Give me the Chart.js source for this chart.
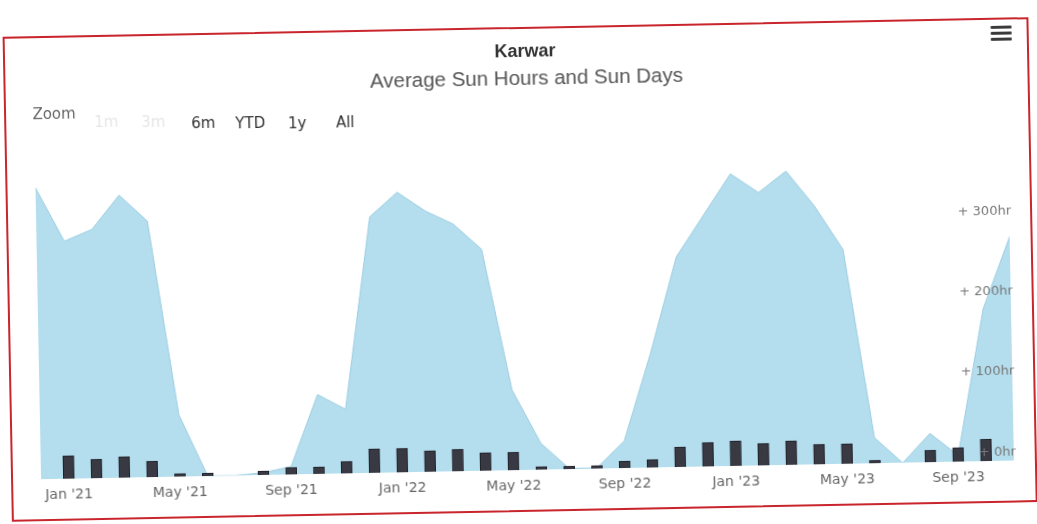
<!DOCTYPE html>
<html>
<head>
<meta charset="utf-8">
<script src="https://cdn.jsdelivr.net/npm/chart.js@4.4.0/dist/chart.umd.min.js"></script>
<style>
html,body{margin:0;padding:0;background:#fff;width:1037px;height:524px;overflow:hidden;}
#wrap{position:absolute;left:0;top:0;width:1037px;height:524px;transform:rotate(-1.1deg);transform-origin:518px 262px;}
#frame{position:absolute;left:7px;top:27px;width:1026px;height:485px;border:2px solid #c9252c;box-sizing:border-box;}
#c{position:absolute;left:0;top:0;}
.t{position:absolute;white-space:nowrap;transform:translate(-50%,-50%);line-height:1;}
#title{left:529px;top:51px;font:bold 18px "Liberation Sans",Arial,sans-serif;color:#333;}
#subtitle{left:530px;top:78px;font:20.5px "Liberation Sans",Arial,sans-serif;color:#555;}
.z{font:15px "DejaVu Sans",sans-serif;color:#333;}
#zoomlbl{left:57px;top:105px;color:#666;}
.dis{color:#e6e6e6;}
#menu{position:absolute;left:995px;top:35px;width:21px;}
#menu div{height:3px;background:#3a3a3a;margin-bottom:3px;border-radius:1px;}
</style>
</head>
<body>
<div id="wrap">
  <div id="frame"></div>
  <canvas id="c" width="1037" height="524"></canvas>
  <div class="t" id="title">Karwar</div>
  <div class="t" id="subtitle">Average Sun Hours and Sun Days</div>
  <div class="t z" id="zoomlbl">Zoom</div>
  <div class="t z dis" style="left:109px;top:114px;">1m</div>
  <div class="t z dis" style="left:156px;top:115px;">3m</div>
  <div class="t z" style="left:206px;top:117px;">6m</div>
  <div class="t z" style="left:253px;top:118px;">YTD</div>
  <div class="t z" style="left:300px;top:119px;">1y</div>
  <div class="t z" style="left:348px;top:119px;">All</div>
  <div id="menu"><div></div><div></div><div></div></div>
</div>
<script>
const months = ["Dec '20",
  "Jan '21","Feb '21","Mar '21","Apr '21","May '21","Jun '21","Jul '21","Aug '21","Sep '21","Oct '21","Nov '21","Dec '21",
  "Jan '22","Feb '22","Mar '22","Apr '22","May '22","Jun '22","Jul '22","Aug '22","Sep '22","Oct '22","Nov '22","Dec '22",
  "Jan '23","Feb '23","Mar '23","Apr '23","May '23","Jun '23","Jul '23","Aug '23","Sep '23","Oct '23","Nov '23"];

// average sun hours per month (area)
const sunHours = [363,
  296,310,352,319,77,0,0,3,10,99,80,319,
  349,325,308,276,100,33,1,1,34,142,262,313,
  364,340,366,322,267,32,0,36,8,190,279];

// sun days per month (columns)
const sunDays = [null,
  23,19,21,16,3,3,null,4,7,7,12,24,
  24,21,22,18,18,3,3,3,7,8,20,24,
  25,22,24,20,20,3,null,12,14,22,null];

const xTickLabels = ["Jan '21","May '21","Sep '21","Jan '22","May '22","Sep '22","Jan '23","May '23","Sep '23"];
const yTickValues = [0,100,200,300];

new Chart(document.getElementById('c'), {
  type: 'line',
  data: {
    labels: months,
    datasets: [
      { type:'bar', label:'Sun Days', data:sunDays, yAxisID:'y1',
        backgroundColor:'#393943', borderColor:'#1f1f27', borderWidth:1, barThickness:11, order:1 },
      { type:'line', label:'Sun Hours', data:sunHours, yAxisID:'y', fill:'origin',
        backgroundColor:'#b4deee', borderColor:'#9ccde2', borderWidth:1, pointRadius:0, tension:0, order:2 }
    ]
  },
  options: {
    responsive:false, animation:false, devicePixelRatio:1,
    layout:{padding:{left:37,right:27,top:149,bottom:21}},
    plugins:{legend:{display:false}, tooltip:{enabled:false}, title:{display:false}},
    scales:{
      x:{ offset:false, grid:{display:false, drawTicks:false}, border:{display:false},
          ticks:{ autoSkip:false, maxRotation:0, minRotation:0, padding:8, color:'#666',
                  font:{family:'DejaVu Sans', size:14},
                  callback:function(v,i){ const l = months[i]; return xTickLabels.includes(l) ? l : ''; } } },
      y:{ position:'right', min:0, max:400,
          grid:{display:false, drawTicks:false}, border:{display:false},
          afterBuildTicks: s => { s.ticks = yTickValues.map(v => ({value:v})); },
          afterFit: s => { s.width = 0; },
          ticks:{ z:1, mirror:true, padding:2, labelOffset:-9, color:'#777',
                  font:{family:'DejaVu Sans', size:13},
                  callback: v => '+ ' + v + 'hr' } },
      y1:{ display:false, min:0, max:321 }
    }
  }
});
</script>
</body>
</html>
